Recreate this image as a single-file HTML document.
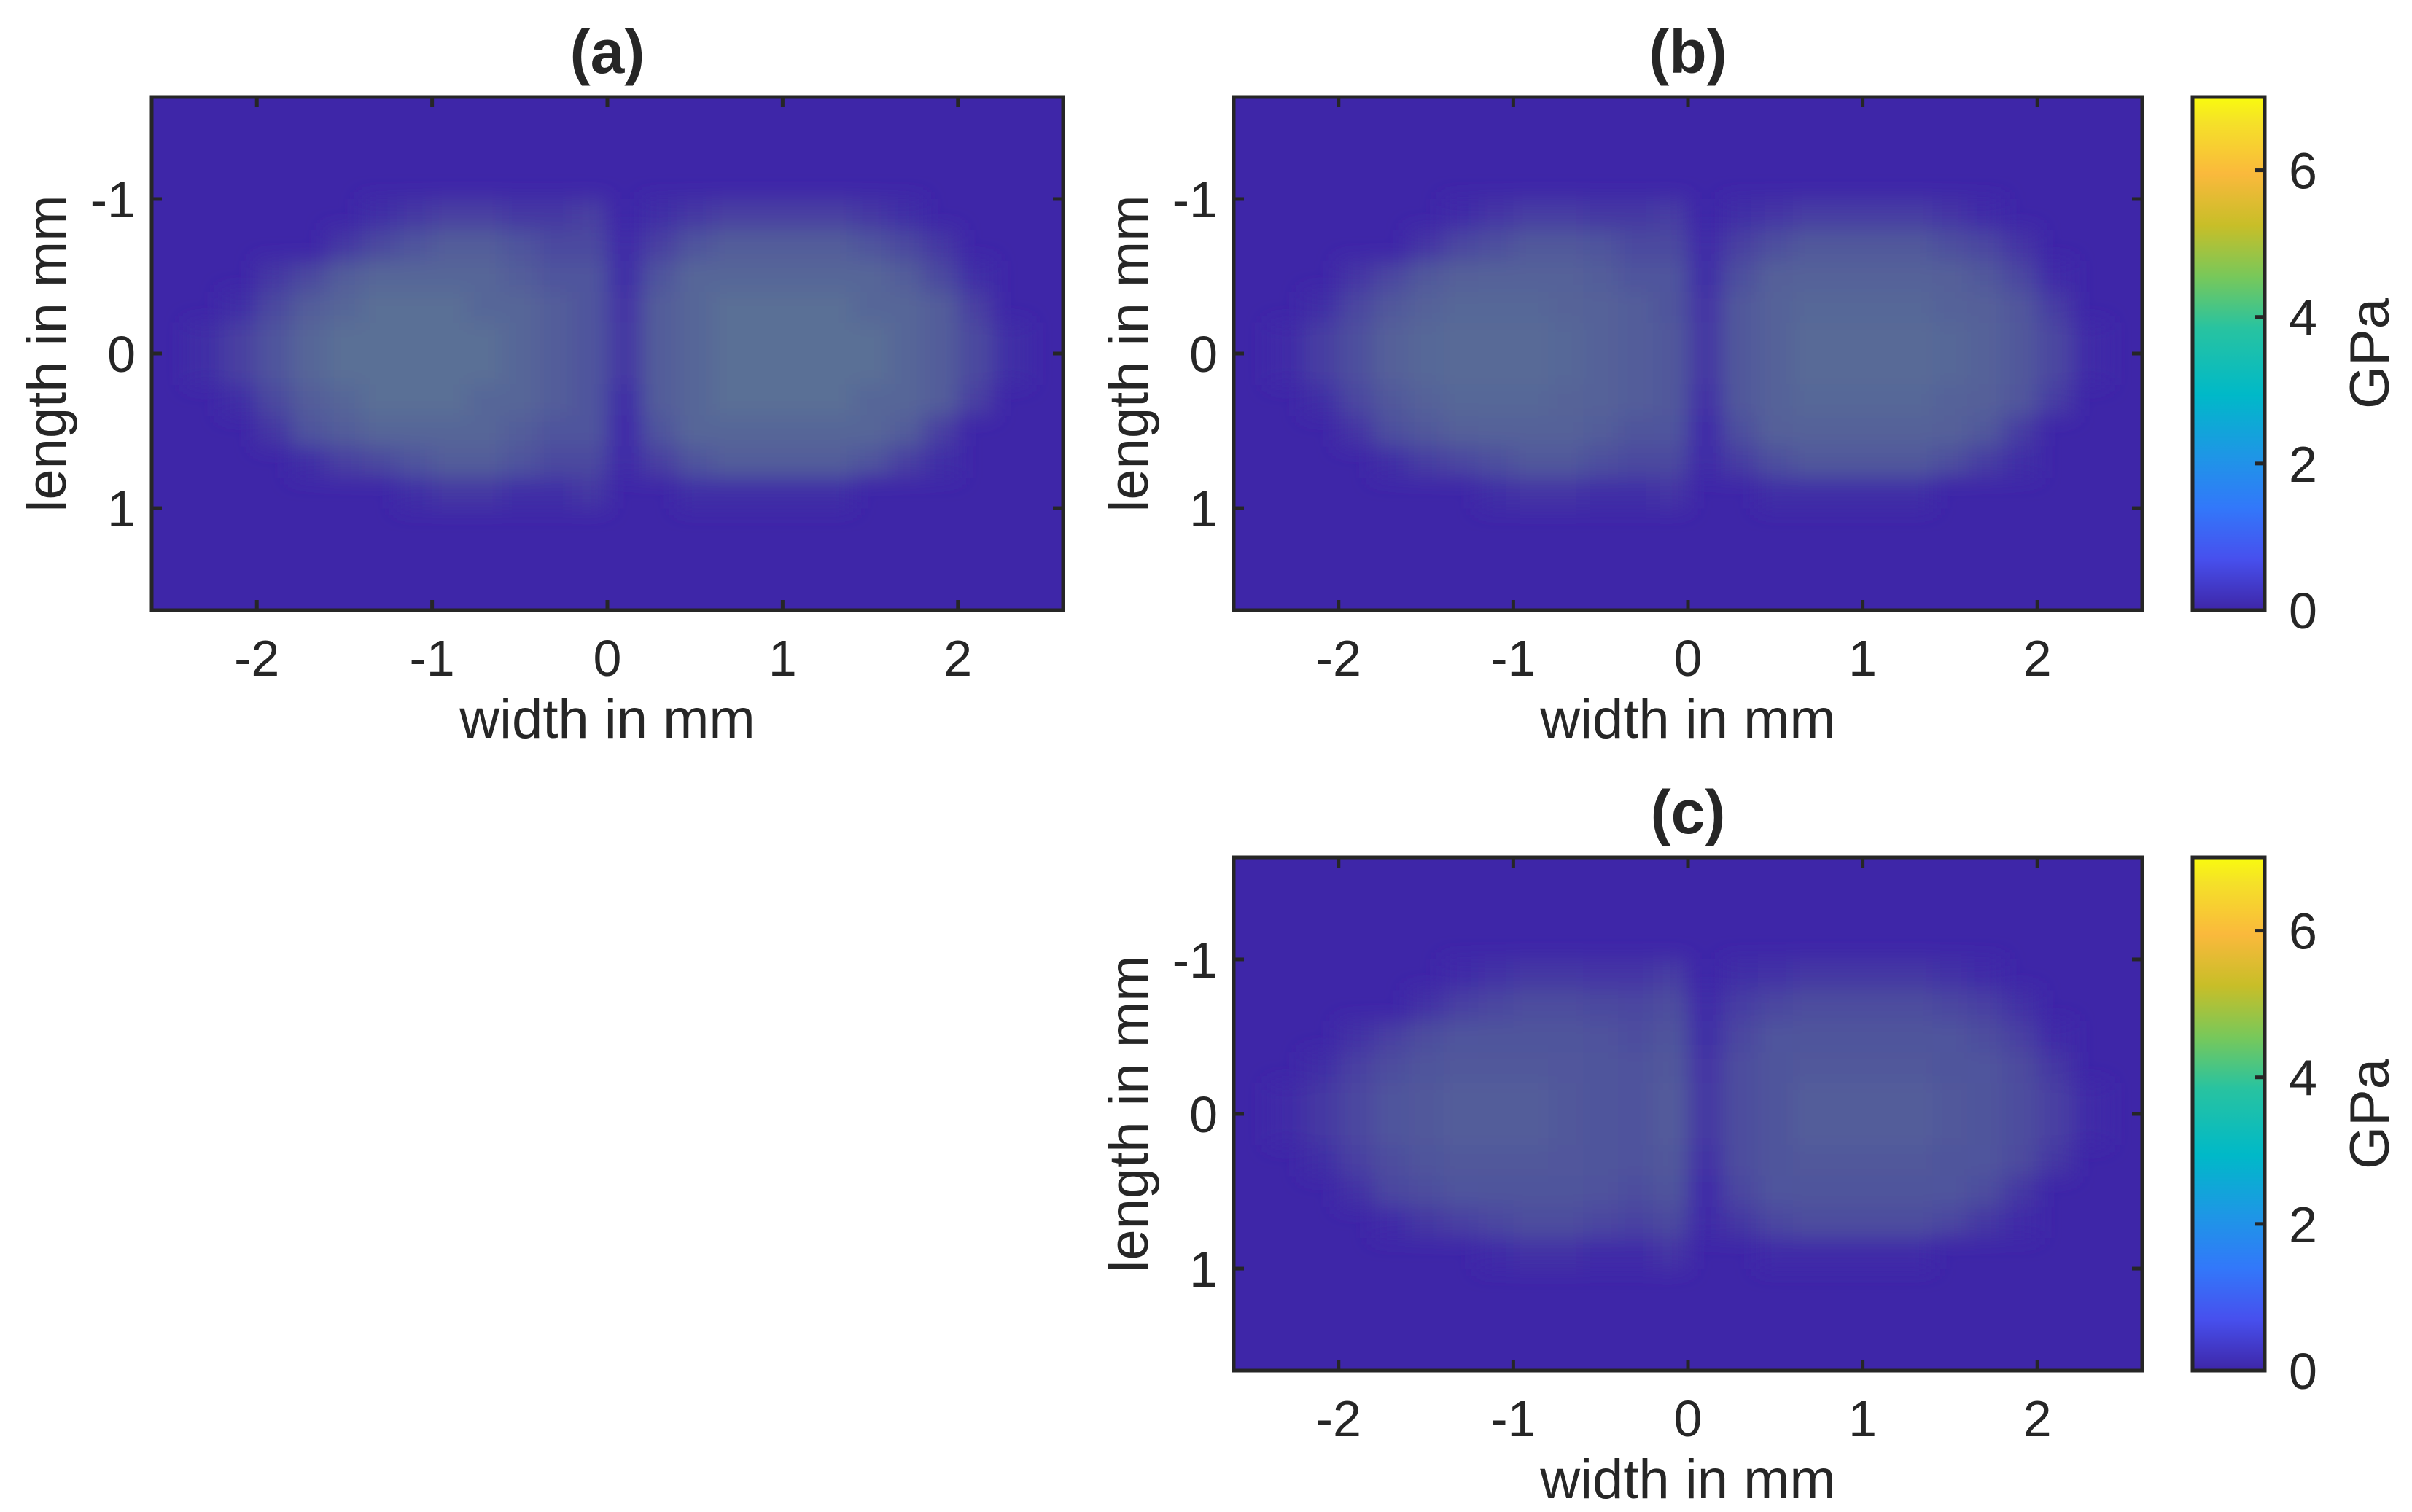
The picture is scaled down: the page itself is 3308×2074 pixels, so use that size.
<!DOCTYPE html>
<html><head><meta charset="utf-8"><style>
html,body{margin:0;padding:0;background:#fff;}
svg text{font-family:"Liberation Sans",sans-serif;fill:#262626;}
</style></head><body>
<svg id="fig" xmlns="http://www.w3.org/2000/svg" width="3308" height="2069" viewBox="0 0 3308 2069">
<defs>
<linearGradient id="parula" x1="0" y1="1" x2="0" y2="0">
<stop offset="0" stop-color="rgb(62,38,168)"/>
<stop offset="0.1" stop-color="rgb(71,80,238)"/>
<stop offset="0.2" stop-color="rgb(50,120,250)"/>
<stop offset="0.3" stop-color="rgb(30,150,230)"/>
<stop offset="0.42" stop-color="rgb(0,185,200)"/>
<stop offset="0.55" stop-color="rgb(40,195,160)"/>
<stop offset="0.65" stop-color="rgb(120,200,90)"/>
<stop offset="0.75" stop-color="rgb(200,190,40)"/>
<stop offset="0.85" stop-color="rgb(250,185,60)"/>
<stop offset="0.95" stop-color="rgb(245,225,40)"/>
<stop offset="1" stop-color="rgb(249,251,14)"/>
</linearGradient>
<filter id="soft" x="-10%" y="-10%" width="120%" height="120%"><feGaussianBlur stdDeviation="14"/></filter>
</defs>
</svg>
<script>
// coarse mean-intensity grids (GPa-ish), columns x=-2.3..2.3 step 0.2, rows y=-0.9..0.9 step 0.2
const xCenters = [-2.3,-2.1,-1.9,-1.7,-1.5,-1.3,-1.1,-0.9,-0.7,-0.5,-0.3,-0.1,0.1,0.3,0.5,0.7,0.9,1.1,1.3,1.5,1.7,1.9,2.1,2.3];
const yCenters = [-0.9,-0.7,-0.5,-0.3,-0.1,0.1,0.3,0.5,0.7,0.9];
const xTicks = [-2,-1,0,1,2];
const yTicks = [-1,0,1];
const cTicks = [0,2,4,6];
const gridA = [
[0,0,0,0,0,0.5,1,1.5,1.5,1,1,1.5,0,0.5,1,1.5,1.5,1.5,1.5,1,0.5,0,0,0],
[0,0,0,0,1,2,2.5,3,3,2.5,2,2,0.3,1.5,2.5,3,3,3,3,2.5,2,1,0,0],
[0,0,1,2,3,3.5,3.5,3.5,3.5,3,2.5,2.5,0.5,2.5,3.5,3.5,3.5,3.5,3.5,3.5,3,2,0.5,0],
[0,0.5,2,3,3.5,4,4,4,3.5,3.5,3,2.5,0.8,3,3.5,4,4,4,4,3.5,3.5,3,1.5,0],
[0.5,1.5,2.5,3.5,4,4,4,4,4,3.5,3,2.5,1,3,3.5,4,4,4,4,4,3.5,3,2,0.5],
[0.5,1.5,2.5,3.5,4,4,4,4,4,3.5,3,2.5,1,3,3.5,4,4,4,4,4,3.5,3,2,0.5],
[0,0.5,2,3,3.5,4,4,4,3.5,3.5,3,2.5,0.5,3,3.5,4,4,4,4,3.5,3.5,3,1.5,0],
[0,0,1,2.5,3,3.5,3.5,3.5,3.5,3,2.5,2.5,0.3,2.5,3.5,3.5,3.5,3.5,3.5,3.5,3,1.5,0,0],
[0,0,0,0.5,1.5,2,2.5,3,3,2.5,2,2,0.2,1.5,2.5,3,3,3,3,2.5,1.5,0.5,0,0],
[0,0,0,0,0,0,0.5,1,1,0.5,0.5,1,0,0,0.5,0.5,0.5,0.5,0.5,0,0,0,0,0]
];
const gridB = [
[0,0,0,0,0,0.3,0.8,1.2,1.2,1,1,1.2,0,0.5,0.8,1.2,1.2,1.2,1.2,0.8,0.3,0,0,0],
[0,0,0,0,0.8,1.8,2.3,2.8,2.8,2.5,2,2,0.3,1.5,2.3,2.8,2.8,2.8,2.8,2.3,1.8,0.8,0,0],
[0,0,0.8,1.8,2.8,3.2,3.3,3.3,3.3,3,2.5,2.5,0.5,2.3,3.2,3.3,3.3,3.3,3.3,3.2,2.8,1.8,0.3,0],
[0,0.5,1.8,2.8,3.3,3.6,3.6,3.6,3.4,3.3,3,2.6,0.8,2.8,3.3,3.6,3.6,3.6,3.6,3.3,3.2,2.7,1.2,0],
[0.3,1.3,2.3,3.2,3.6,3.8,3.8,3.8,3.6,3.3,3,2.8,1,2.8,3.3,3.8,3.8,3.8,3.8,3.6,3.3,2.8,1.8,0.3],
[0.3,1.3,2.3,3.2,3.6,3.8,3.8,3.8,3.6,3.3,3,2.8,1,2.8,3.3,3.8,3.8,3.8,3.8,3.6,3.3,2.8,1.8,0.3],
[0,0.5,1.8,2.8,3.3,3.6,3.6,3.6,3.4,3.3,3,2.8,0.6,2.8,3.3,3.6,3.6,3.6,3.6,3.3,3.2,2.7,1.2,0],
[0,0,0.8,2.3,2.8,3.2,3.3,3.3,3.3,3,2.6,2.5,0.3,2.3,3.2,3.3,3.3,3.3,3.3,3.2,2.8,1.3,0,0],
[0,0,0,0.4,1.3,1.8,2.3,2.8,2.8,2.3,2,2,0.2,1.3,2.3,2.8,2.8,2.8,2.8,2.3,1.3,0.4,0,0],
[0,0,0,0,0,0,0.4,0.8,0.8,0.4,0.4,0.8,0,0,0.4,0.4,0.4,0.4,0.4,0,0,0,0,0]
];
const gridC = [
[0,0,0,0,0,0.2,0.6,1,1,0.8,0.8,1.2,0,0.4,0.6,1,1,1,1,0.6,0.2,0,0,0],
[0,0,0,0,0.6,1.4,1.8,2.2,2.2,2,1.8,2.2,0.3,1.2,1.8,2.2,2.2,2.2,2.2,1.8,1.4,0.6,0,0],
[0,0,0.6,1.4,2.2,2.5,2.6,2.6,2.6,2.4,2.2,2.6,0.5,1.8,2.5,2.6,2.6,2.6,2.6,2.5,2.2,1.4,0.3,0],
[0,0.4,1.4,2.2,2.6,2.8,2.8,2.8,2.7,2.6,2.4,2.8,0.8,2.2,2.6,2.8,2.8,2.8,2.8,2.6,2.5,2.1,1,0],
[0.3,1,1.8,2.5,2.8,3,3,3,2.8,2.6,2.4,2.9,1,2.2,2.6,3,3,3,3,2.8,2.6,2.2,1.4,0.3],
[0.3,1,1.8,2.5,2.8,3,3,3,2.8,2.6,2.4,2.9,1,2.2,2.6,3,3,3,3,2.8,2.6,2.2,1.4,0.3],
[0,0.4,1.4,2.2,2.6,2.8,2.8,2.8,2.7,2.6,2.4,2.8,0.6,2.2,2.6,2.8,2.8,2.8,2.8,2.6,2.5,2.1,1,0],
[0,0,0.6,1.8,2.2,2.5,2.6,2.6,2.6,2.4,2.2,2.6,0.3,1.8,2.5,2.6,2.6,2.6,2.6,2.5,2.2,1,0,0],
[0,0,0,0.3,1,1.4,1.8,2.2,2.2,1.8,1.6,2,0.2,1,1.8,2.2,2.2,2.2,2.2,1.8,1,0.3,0,0],
[0,0,0,0,0,0,0.3,0.6,0.6,0.3,0.3,0.8,0,0,0.3,0.3,0.3,0.3,0.3,0,0,0,0,0]
];

const NS='http://www.w3.org/2000/svg';
const svg=document.getElementById('fig');
const BG=[62,38,168];
const MIX=[120,190,130];
function mk(tag,attrs,parent){const e=document.createElementNS(NS,tag);for(const k in attrs)e.setAttribute(k,attrs[k]);(parent||svg).appendChild(e);return e;}

function panel(id,title,grid,L,T,R,B,hasCb){
  const g=mk('g',{});
  
  
  const xs=v=>L+(v+2.6)/5.2*(R-L);
  const ys=v=>T+(v+1.66)/3.32*(B-T);
  const bg=mk('rect',{x:L,y:T,width:R-L,height:B-T,fill:'rgb(62,38,168)'},g);
  
  
  const cells=mk('g',{filter:'url(#soft)'},g);
  
  
  const cw=xs(0.2)-xs(0),ch=ys(0.2)-ys(0);
  for(let r=0;r<yCenters.length;r++)for(let c=0;c<xCenters.length;c++){
    const v=grid[r][c]; if(v<=0)continue;
    const f=Math.min(1,v/4)*0.48;
    const col=BG.map((b,k)=>Math.round(b+(MIX[k]-b)*f));
    const cell=mk('rect',{x:xs(xCenters[c])-cw/2,y:ys(yCenters[r])-ch/2,width:cw+0.5,height:ch+0.5,fill:'rgb('+col.join(',')+')'},cells);
    
    
  }
  mk('rect',{x:L,y:T,width:R-L,height:B-T,fill:'none',stroke:'#262626','stroke-width':5},g);
  xTicks.forEach(t=>{const x=xs(t);
    mk('line',{x1:x,y1:B,x2:x,y2:B-14,stroke:'#262626','stroke-width':5},g);
    mk('line',{x1:x,y1:T,x2:x,y2:T+14,stroke:'#262626','stroke-width':5},g);
    const tx=mk('text',{x:x,y:B+90,'font-size':70,'text-anchor':'middle'},g);tx.textContent=String(t);
    
    });
  yTicks.forEach(t=>{const y=ys(t);
    mk('line',{x1:L,y1:y,x2:L+14,y2:y,stroke:'#262626','stroke-width':5},g);
    mk('line',{x1:R,y1:y,x2:R-14,y2:y,stroke:'#262626','stroke-width':5},g);
    const tx=mk('text',{x:L-22,y:y+25,'font-size':70,'text-anchor':'end'},g);tx.textContent=String(t);
    
    });
  const xl=mk('text',{x:(L+R)/2,y:B+175,'font-size':76,'text-anchor':'middle'},g);xl.textContent='width in mm';
  
  
  const yl=mk('text',{x:0,y:0,'font-size':76,'text-anchor':'middle',transform:'translate('+(L-118)+','+((T+B)/2)+') rotate(-90)'},g);yl.textContent='length in mm';
  
  
  const tl=mk('text',{x:(L+R)/2,y:T-33,'font-size':84,'font-weight':'bold','text-anchor':'middle'},g);tl.textContent=title;
  
  
  if(hasCb){
    const cL=3007,cR=3106;const cs=v=>B-(v/7)*(B-T);
    const cb=mk('rect',{x:cL,y:T,width:cR-cL,height:B-T,fill:'url(#parula)',stroke:'#262626','stroke-width':5},g);
    
    
    cTicks.forEach(t=>{const y=cs(t);
      mk('line',{x1:cR,y1:y,x2:cR-14,y2:y,stroke:'#262626','stroke-width':5},g);
      const tx=mk('text',{x:cR+33,y:y+25,'font-size':70},g);tx.textContent=String(t);
      
      });
    const cl=mk('text',{x:0,y:0,'font-size':76,'text-anchor':'middle',transform:'translate(3276,'+((T+B)/2)+') rotate(-90)'},g);cl.textContent='GPa';
    
    
  }
}
panel('a','(a)',gridA,208,133,1458,837,false);
panel('b','(b)',gridB,1692,133,2938,837,true);
panel('c','(c)',gridC,1692,1176,2938,1880,true);
</script>
</body></html>
